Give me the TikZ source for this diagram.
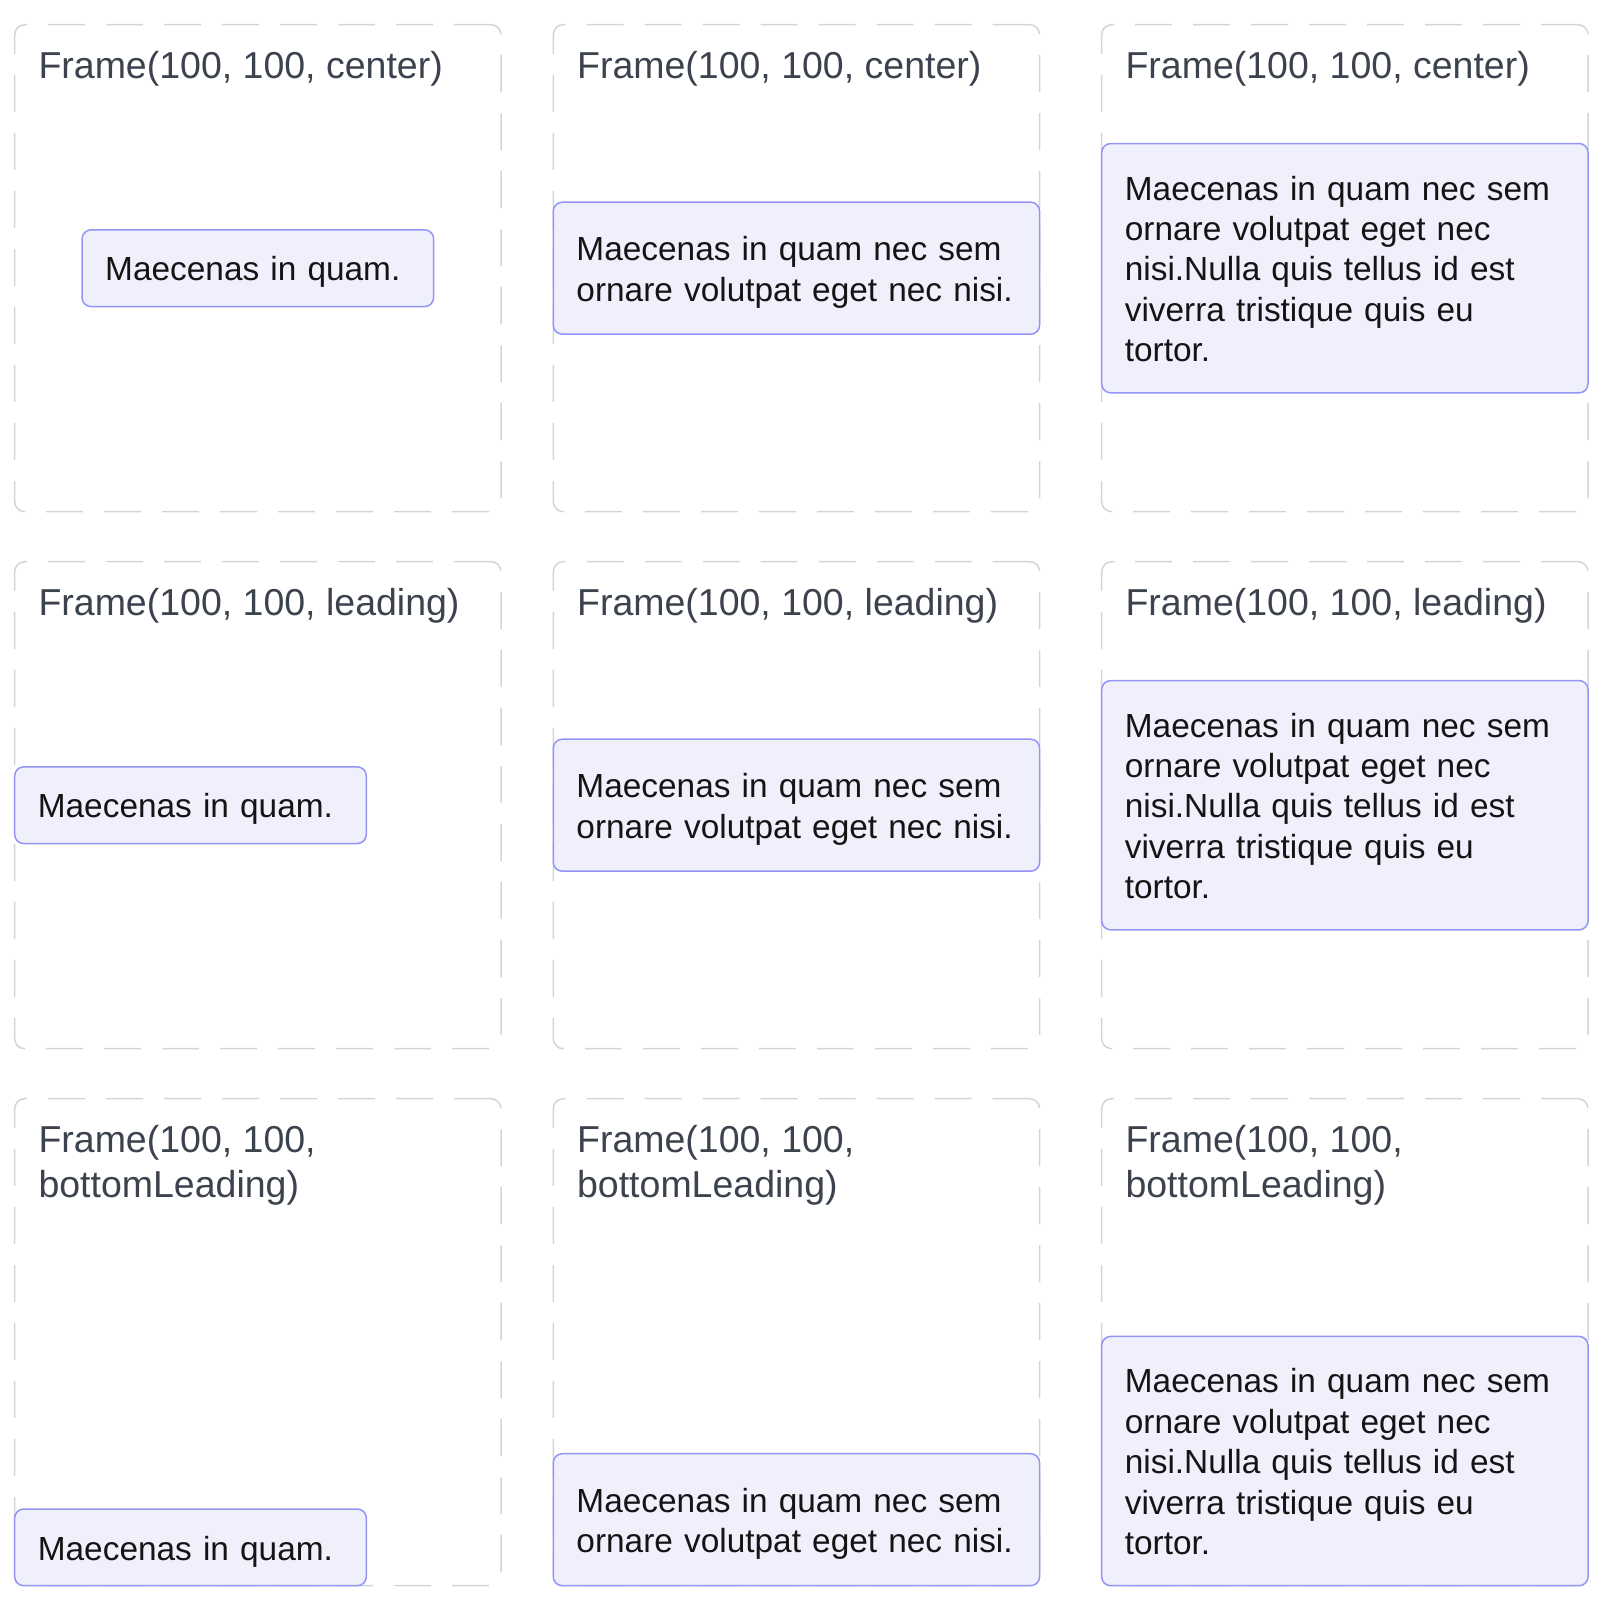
\documentclass[tikz,border=0pt]{standalone}
\usepackage{fontspec}
\setmainfont{Liberation Sans}
\usepackage{tikz}
\usetikzlibrary{positioning}
\definecolor{frmgray}{HTML}{D1D5DB}
\definecolor{ttlgray}{HTML}{3C434E}
\definecolor{boxline}{HTML}{9494F7}
\definecolor{boxfill}{HTML}{F0F0FD}
\newcommand{\bstrut}{\rule[-7.5pt]{0pt}{40.4pt}}

\begin{document}
\begin{tikzpicture}[x=1pt,y=-1pt,
  frm/.style={draw=frmgray,line width=1.5pt,dash pattern=on 37pt off 21pt,rounded corners=10pt,minimum width=486.3pt,minimum height=487pt,inner sep=0pt,outer sep=0pt},
  ttl/.style={text=ttlgray,font=\fontsize{37.5}{45}\selectfont,anchor=base west,align=left,inner sep=0pt},
  box/.style={draw=boxline,fill=boxfill,line width=1.5pt,rounded corners=9pt,text=black!92,font=\fontsize{33.4}{40.4}\selectfont,align=left,inner xsep=23.15pt,inner ysep=0pt,outer sep=0pt},
  short/.style={box,text width=305.3pt,minimum height=76.7pt},
  mid/.style={box,text width=440pt,minimum height=132pt},
  long/.style={box,text width=440pt,minimum height=249.3pt}]
\useasboundingbox (0,0) rectangle (1612,1602);
% dashed frames
\foreach \r/\y in {1/268.2,2/805.2,3/1342.2} {
  \foreach \c/\x in {1/257.85,2/796.45,3/1344.85} {
    \node[frm] (f\r\c) at (\x,\y) {};
  }
}
% titles (base of a two-line title is its last line)
\foreach \c in {1,2,3} {
  \node[ttl] (t1\c) at ([shift={(23.6,53.6)}]f1\c.north west) {Frame(100, 100, center)};
  \node[ttl] (t2\c) at ([shift={(23.6,53.6)}]f2\c.north west) {Frame(100, 100, leading)};
  \node[ttl] (t3\c) at ([shift={(23.6,98.6)}]f3\c.north west) {Frame(100, 100,\\bottomLeading)};
}
% center
\node[short] (b11) at (f11.center) {\bstrut Maecenas in quam.};
\node[mid] (b12) at (f12.center) {\bstrut Maecenas in quam nec sem\\\bstrut ornare volutpat eget nec nisi.};
\node[long] (b13) at (f13.center) {\bstrut Maecenas in quam nec sem\\\bstrut ornare volutpat eget nec\\\bstrut nisi.Nulla quis tellus id est\\\bstrut viverra tristique quis eu\\\bstrut tortor.};
% leading
\node[short,anchor=west] (b21) at (f21.west) {\bstrut Maecenas in quam.};
\node[mid,anchor=west] (b22) at (f22.west) {\bstrut Maecenas in quam nec sem\\\bstrut ornare volutpat eget nec nisi.};
\node[long,anchor=west] (b23) at (f23.west) {\bstrut Maecenas in quam nec sem\\\bstrut ornare volutpat eget nec\\\bstrut nisi.Nulla quis tellus id est\\\bstrut viverra tristique quis eu\\\bstrut tortor.};
% bottomLeading
\node[short,anchor=south west] (b31) at (f31.south west) {\bstrut Maecenas in quam.};
\node[mid,anchor=south west] (b32) at (f32.south west) {\bstrut Maecenas in quam nec sem\\\bstrut ornare volutpat eget nec nisi.};
\node[long,anchor=south west] (b33) at (f33.south west) {\bstrut Maecenas in quam nec sem\\\bstrut ornare volutpat eget nec\\\bstrut nisi.Nulla quis tellus id est\\\bstrut viverra tristique quis eu\\\bstrut tortor.};
\end{tikzpicture}
\end{document}
